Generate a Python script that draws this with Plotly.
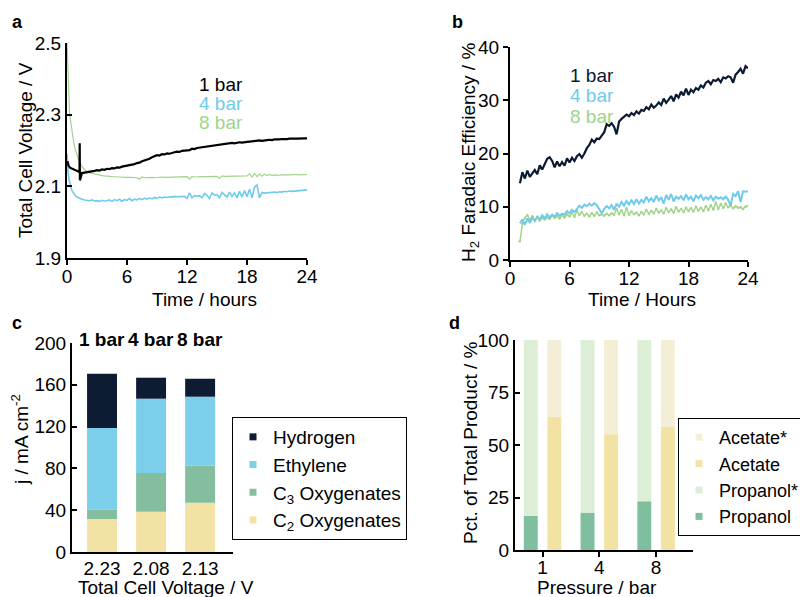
import plotly.graph_objects as go

W, H = 808, 597
# the page body has an 8 px default margin; positions below are given in
# screen pixels of the final picture and converted with this offset
OFF = 8
FONT = "Arial, Liberation Sans, sans-serif"
FS = 19

# ---------------- Panel a: total cell voltage vs time ----------------
pressures = ["1 bar", "4 bar", "8 bar"]

# regular 15-min sampling from 2 h to 24 h
t_grid_a = [h + q for h in range(2, 24) for q in (0.0, 0.25, 0.5, 0.75)] + [24.0]

v1_early_t = [0.05, 0.15, 0.3, 0.5, 0.7, 0.9, 1.1, 1.25, 1.27, 1.29, 1.31, 1.33, 1.5, 1.75]
v1_early = [2.170, 2.158, 2.152, 2.149, 2.146, 2.143, 2.141, 2.140, 2.220, 2.117, 2.215, 2.120, 2.137, 2.138]
v1_grid = [
    2.139, 2.141, 2.140, 2.143, 2.145, 2.144, 2.147, 2.146,
    2.149, 2.148, 2.151, 2.150, 2.153, 2.152, 2.155, 2.156,
    2.157, 2.158, 2.161, 2.162, 2.165, 2.166, 2.170, 2.172,
    2.175, 2.177, 2.181, 2.183, 2.187, 2.186, 2.190, 2.189,
    2.192, 2.191, 2.194, 2.195, 2.197, 2.196, 2.199, 2.200,
    2.202, 2.201, 2.205, 2.204, 2.207, 2.208, 2.210, 2.209,
    2.212, 2.213, 2.214, 2.215, 2.216, 2.215, 2.218, 2.217,
    2.219, 2.220, 2.221, 2.220, 2.222, 2.223, 2.222, 2.224,
    2.224, 2.225, 2.226, 2.225, 2.227, 2.228, 2.227, 2.229,
    2.229, 2.230, 2.229, 2.231, 2.230, 2.231, 2.232, 2.231,
    2.232, 2.233, 2.232, 2.233, 2.233, 2.234, 2.233, 2.234,
    2.234,
]

v4_early_t = [0.0, 0.05, 0.1, 0.2, 0.3, 0.4, 0.5, 0.65, 0.8, 1.0, 1.25, 1.5, 1.75]
v4_early = [2.190, 2.160, 2.140, 2.120, 2.105, 2.095, 2.088, 2.080, 2.075, 2.070, 2.066, 2.064, 2.062]
v4_grid = [
    2.061, 2.060, 2.062, 2.059, 2.060, 2.058, 2.061, 2.059,
    2.060, 2.062, 2.058, 2.063, 2.060, 2.064, 2.058, 2.063,
    2.061, 2.066, 2.060, 2.064, 2.062, 2.066, 2.063, 2.067,
    2.064, 2.068, 2.065, 2.069, 2.067, 2.070, 2.068, 2.070,
    2.069, 2.071, 2.070, 2.072, 2.071, 2.071, 2.073, 2.072,
    2.066, 2.082, 2.068, 2.074, 2.073, 2.074, 2.068, 2.080,
    2.075, 2.066, 2.082, 2.075, 2.077, 2.068, 2.083, 2.076,
    2.070, 2.084, 2.072, 2.082, 2.068, 2.086, 2.070, 2.088,
    2.071, 2.092, 2.068, 2.098, 2.104, 2.068, 2.083, 2.081,
    2.082, 2.083, 2.082, 2.084, 2.083, 2.085, 2.084, 2.086,
    2.085, 2.087, 2.086, 2.087, 2.088, 2.087, 2.089, 2.090,
    2.090,
]

v8_early_t = [0.0, 0.03, 0.06, 0.1, 0.15, 0.2, 0.25, 0.3, 0.4, 0.5, 0.63, 0.8, 0.97, 1.15, 1.3, 1.5, 1.75]
v8_early = [2.500, 2.470, 2.430, 2.390, 2.350, 2.325, 2.310, 2.295, 2.270, 2.250, 2.230, 2.205, 2.187, 2.175, 2.165, 2.155, 2.147]
v8_grid = [
    2.141, 2.138, 2.136, 2.134, 2.132, 2.131, 2.130, 2.129,
    2.128, 2.128, 2.127, 2.127, 2.126, 2.126, 2.125, 2.125,
    2.125, 2.125, 2.124, 2.125, 2.124, 2.120, 2.126, 2.124,
    2.125, 2.124, 2.125, 2.124, 2.125, 2.125, 2.126, 2.125,
    2.125, 2.126, 2.125, 2.126, 2.126, 2.125, 2.126, 2.126,
    2.127, 2.120, 2.127, 2.126, 2.127, 2.126, 2.127, 2.127,
    2.127, 2.128, 2.127, 2.128, 2.128, 2.122, 2.129, 2.128,
    2.128, 2.129, 2.128, 2.129, 2.129, 2.128, 2.129, 2.130,
    2.129, 2.135, 2.126, 2.136, 2.127, 2.135, 2.128, 2.134,
    2.130, 2.133, 2.130, 2.132, 2.131, 2.131, 2.132, 2.131,
    2.132, 2.132, 2.133, 2.132, 2.133, 2.132, 2.133, 2.133,
    2.133,
]

# ---------------- Panel b: H2 faradaic efficiency vs time ----------------
t_grid_b = [h + q for h in range(1, 24) for q in (0.0, 0.25, 0.5, 0.75)] + [24.0]

fe1 = [
    14.4, 16.5, 15.3, 16.8, 15.6, 16.2, 16.9, 16.1,
    17.8, 17.0, 17.9, 19.0, 19.3, 18.6, 17.4, 18.5,
    17.6, 18.4, 17.7, 19.1, 18.3, 19.2, 18.6, 19.5,
    19.9, 19.2, 20.0, 21.0, 21.6, 22.6, 22.1, 22.8,
    22.7, 23.4, 24.0, 25.5, 25.2, 25.7, 25.0, 23.6,
    26.0, 26.5, 26.9, 27.3, 27.0, 27.6, 27.2, 27.9,
    27.5, 28.2, 28.0, 28.7, 28.3, 29.2, 28.6, 29.0,
    29.6, 29.1, 30.3, 29.5, 30.1, 30.8, 29.8, 31.1,
    30.5, 31.6, 30.9, 32.2, 31.0, 32.0, 31.5, 32.3,
    32.0, 32.8, 32.4, 33.3, 33.6, 33.0, 33.8, 33.6,
    34.0, 33.4, 34.3, 34.1, 34.5, 34.3, 33.3, 34.8,
    35.3, 35.9, 35.0, 36.4, 36.0,
]
fe4 = [
    6.9, 7.6, 6.6, 7.8, 7.0, 8.0, 7.3, 8.1,
    7.6, 8.4, 7.8, 8.6, 8.0, 8.5, 8.1, 8.8,
    8.3, 8.7, 8.5, 9.2, 8.8, 9.4, 9.0, 9.7,
    10.2, 9.8, 10.4, 10.1, 10.6, 10.2, 10.7, 10.3,
    9.4, 8.8, 9.6, 10.1, 9.7, 10.3, 9.4, 10.6,
    10.0, 10.9, 10.2, 11.1, 10.4, 11.2, 10.5, 11.4,
    10.6, 11.3, 10.8, 11.9, 11.0, 11.6, 10.9, 12.1,
    11.2, 11.8, 10.6, 12.2, 11.3, 12.4, 11.0, 11.9,
    11.5, 12.0, 11.2, 12.3, 11.4, 11.9, 11.0, 12.1,
    11.6, 12.2, 11.3, 11.8, 11.4, 12.0, 11.2, 11.9,
    11.5, 11.8, 11.4, 11.9, 11.3, 10.2, 12.4, 12.0,
    12.9, 10.9, 12.9, 12.8, 12.9,
]
fe8 = [
    3.5, 6.8, 7.9, 8.4, 7.6, 8.2, 7.5, 8.1,
    7.4, 7.9, 7.6, 8.0, 7.7, 8.3, 7.9, 8.2,
    7.8, 8.4, 8.0, 8.6, 8.2, 8.9, 8.1, 9.2,
    8.5, 9.0, 8.3, 8.7, 8.2, 8.8, 8.3, 8.9,
    8.4, 8.6, 8.3, 8.7, 8.4, 8.8, 8.5, 9.6,
    8.6, 9.3, 8.4, 9.7, 8.5, 9.1, 8.6, 8.9,
    8.4, 9.0, 8.6, 9.4, 8.7, 9.2, 8.8, 9.6,
    8.9, 9.3, 8.8, 9.7, 9.0, 9.5, 8.9, 9.9,
    9.1, 9.6, 9.0, 9.8, 9.2, 9.7, 9.1, 10.0,
    9.3, 9.8, 9.2, 10.1, 9.4, 10.3, 9.5, 10.8,
    9.6, 10.5, 9.8, 10.6, 9.9, 10.2, 9.7, 10.1,
    9.8, 9.9, 9.6, 10.0, 10.2,
]

# ---------------- Panel c: partial current densities ----------------
voltage_labels = ["2.23", "2.08", "2.13"]
c2_oxygenates = [31.6, 38.6, 47.2]
c3_oxygenates = [8.9, 37.0, 35.4]
ethylene = [78.2, 71.1, 66.0]
hydrogen = [51.9, 20.1, 17.2]

# ---------------- Panel d: product percentages ----------------
pressure_ticks = ["1", "4", "8"]
propanol_pct = [16.3, 17.8, 23.2]
acetate_pct = [63.5, 55.1, 58.7]

# ---------------- colours ----------------
COL_1BAR_A = "#000000"
COL_1BAR_B = "#0c1a34"
COL_4BAR = "#6ecbec"
COL_8BAR = "#a0d48a"
COL_H2 = "#0d1b33"
COL_ETH = "#7bcfea"
COL_C3 = "#84be9e"
COL_C2 = "#f2e3a5"
COL_PROP = "#7fbe9e"
COL_PROPS = "#dcefd6"
COL_ACE = "#f2e3a5"
COL_ACES = "#f5eed6"


def px_x(p):
    return (p - OFF) / W


def px_y(p):
    return 1 - (p - OFF) / H


fig = go.Figure()

# panel a lines
fig.add_trace(go.Scatter(x=v8_early_t + t_grid_a, y=v8_early + v8_grid, mode="lines",
                         line=dict(color=COL_8BAR, width=1.2), xaxis="x", yaxis="y",
                         showlegend=False, name="8 bar"))
fig.add_trace(go.Scatter(x=v4_early_t + t_grid_a, y=v4_early + v4_grid, mode="lines",
                         line=dict(color=COL_4BAR, width=1.6), xaxis="x", yaxis="y",
                         showlegend=False, name="4 bar"))
fig.add_trace(go.Scatter(x=v1_early_t + t_grid_a, y=v1_early + v1_grid, mode="lines",
                         line=dict(color=COL_1BAR_A, width=2.2), xaxis="x", yaxis="y",
                         showlegend=False, name="1 bar"))

# panel b lines
fig.add_trace(go.Scatter(x=t_grid_b, y=fe8, mode="lines+markers",
                         line=dict(color=COL_8BAR, width=1.4), marker=dict(size=2.5, color=COL_8BAR),
                         xaxis="x2", yaxis="y2", showlegend=False, name="8 bar"))
fig.add_trace(go.Scatter(x=t_grid_b, y=fe4, mode="lines",
                         line=dict(color=COL_4BAR, width=2),
                         xaxis="x2", yaxis="y2", showlegend=False, name="4 bar"))
fig.add_trace(go.Scatter(x=t_grid_b, y=fe1, mode="lines",
                         line=dict(color=COL_1BAR_B, width=2.2),
                         xaxis="x2", yaxis="y2", showlegend=False, name="1 bar"))

# panel c stacked bars (stack via base)
c_series = [
    ("C<sub>2</sub> Oxygenates", c2_oxygenates, COL_C2),
    ("C<sub>3</sub> Oxygenates", c3_oxygenates, COL_C3),
    ("Ethylene", ethylene, COL_ETH),
    ("Hydrogen", hydrogen, COL_H2),
]
base = [0.0] * len(voltage_labels)
for name, vals, col in c_series:
    fig.add_trace(go.Bar(x=voltage_labels, y=vals, base=list(base), width=0.61,
                         marker=dict(color=col, line=dict(width=0)),
                         xaxis="x3", yaxis="y3", showlegend=False, name=name))
    base = [b + v for b, v in zip(base, vals)]

# panel c legend entries (top to bottom)
for name, vals, col in reversed(c_series):
    fig.add_trace(go.Scatter(x=[None], y=[None], mode="markers", name=name,
                             marker=dict(symbol="square", size=7, color=col),
                             xaxis="x3", yaxis="y3", legend="legend"))

# panel d grouped, stacked bars
propanol_rest = [100 - v for v in propanol_pct]
acetate_rest = [100 - v for v in acetate_pct]
BW = 0.245
fig.add_trace(go.Bar(x=pressure_ticks, y=propanol_pct, base=[0] * 3, width=BW, offset=-0.33,
                     marker=dict(color=COL_PROP, line=dict(width=0)),
                     xaxis="x4", yaxis="y4", showlegend=False, name="Propanol"))
fig.add_trace(go.Bar(x=pressure_ticks, y=propanol_rest, base=propanol_pct, width=BW, offset=-0.33,
                     marker=dict(color=COL_PROPS, line=dict(width=0)),
                     xaxis="x4", yaxis="y4", showlegend=False, name="Propanol*"))
fig.add_trace(go.Bar(x=pressure_ticks, y=acetate_pct, base=[0] * 3, width=BW, offset=0.085,
                     marker=dict(color=COL_ACE, line=dict(width=0)),
                     xaxis="x4", yaxis="y4", showlegend=False, name="Acetate"))
fig.add_trace(go.Bar(x=pressure_ticks, y=acetate_rest, base=acetate_pct, width=BW, offset=0.085,
                     marker=dict(color=COL_ACES, line=dict(width=0)),
                     xaxis="x4", yaxis="y4", showlegend=False, name="Acetate*"))

for name, col in [("Acetate*", COL_ACES), ("Acetate", COL_ACE),
                  ("Propanol*", COL_PROPS), ("Propanol", COL_PROP)]:
    fig.add_trace(go.Scatter(x=[None], y=[None], mode="markers", name=name,
                             marker=dict(symbol="square", size=7, color=col),
                             xaxis="x4", yaxis="y4", legend="legend2"))

axis_common = dict(showline=True, linecolor="black", linewidth=2, showgrid=False,
                   zeroline=False, tickfont=dict(family=FONT, size=FS, color="black"),
                   tickcolor="black", tickwidth=1.5, ticklen=5, automargin=False)

fig.update_layout(
    width=W, height=H,
    margin=dict(l=0, r=0, t=0, b=0, pad=0, autoexpand=False),
    paper_bgcolor="white", plot_bgcolor="white",
    font=dict(family=FONT, size=FS, color="black"),
    barmode="overlay",
    xaxis=dict(domain=[px_x(67), px_x(307)], anchor="y", range=[0, 24],
               tickvals=[0, 6, 12, 18, 24], ticks="outside", ticklabelstandoff=-5, **axis_common),
    yaxis=dict(domain=[px_y(258), px_y(43)], anchor="x", range=[1.9, 2.5],
               tickvals=[1.9, 2.1, 2.3, 2.5], tickformat=".1f", ticks="inside", **axis_common),
    xaxis2=dict(domain=[px_x(510), px_x(748)], anchor="y2", range=[0, 24],
                tickvals=[0, 6, 12, 18, 24], ticks="outside", ticklabelstandoff=-5, **axis_common),
    yaxis2=dict(domain=[px_y(260), px_y(47)], anchor="x2", range=[0, 40],
                tickvals=[0, 10, 20, 30, 40], ticks="outside", **axis_common),
    xaxis3=dict(domain=[px_x(72), px_x(233)], anchor="y3", type="category",
                range=[-0.612, 2.67], ticks="", ticklabelstandoff=-2, **axis_common),
    yaxis3=dict(domain=[px_y(552), px_y(343)], anchor="x3", range=[0, 200],
                tickvals=[0, 40, 80, 120, 160, 200], ticks="inside", **axis_common),
    xaxis4=dict(domain=[px_x(515), px_x(693)], anchor="y4", type="category",
                range=[-0.485, 2.65], ticks="outside", ticklabelstandoff=-6, **axis_common),
    yaxis4=dict(domain=[px_y(550), px_y(340)], anchor="x4", range=[0, 100],
                tickvals=[0, 25, 50, 75, 100], ticks="inside", **axis_common),
    legend=dict(x=px_x(232), y=px_y(417), xanchor="left", yanchor="top",
                bordercolor="black", borderwidth=1, bgcolor="white",
                font=dict(family=FONT, size=FS), itemwidth=30, tracegroupgap=0,
                traceorder="normal"),
    legend2=dict(x=px_x(678), y=px_y(418), xanchor="left", yanchor="top",
                 bordercolor="black", borderwidth=1, bgcolor="white",
                 font=dict(family=FONT, size=18), itemwidth=30, tracegroupgap=0,
                 traceorder="normal"),
    showlegend=True,
)

annotations = []


def add_text(text, x, y, size=FS, bold=False, angle=0, color="black", xanchor="center"):
    annotations.append(dict(
        text=f"<b>{text}</b>" if bold else text, x=px_x(x), y=px_y(y),
        xref="paper", yref="paper", showarrow=False, textangle=angle,
        xanchor=xanchor, yanchor="middle",
        font=dict(family=FONT, size=size, color=color)))


# panel letters
add_text("a", 17, 22, size=18, bold=True)
add_text("b", 457, 22, size=18, bold=True)
add_text("c", 17, 323, size=18, bold=True)
add_text("d", 454, 323, size=18, bold=True)

# axis titles
add_text("Total Cell Voltage / V", 25, 150, angle=-90)
add_text("Time / hours", 204, 299)
add_text("H<sub>2</sub> Faradaic Efficiency / %", 470, 152, angle=-90)
add_text("Time / Hours", 642, 299)
add_text("j / mA cm<sup>-2</sup>", 20, 440, angle=-90)
add_text("Total Cell Voltage / V", 166, 587)
add_text("Pct. of Total Product / %", 470, 442, angle=-90)
add_text("Pressure / bar", 597, 587)

fig.update_layout(annotations=annotations)

# series labels inside panels a and b (data coordinates)
label_cols_a = [COL_1BAR_A, COL_4BAR, COL_8BAR]
label_cols_b = [COL_1BAR_B, COL_4BAR, COL_8BAR]
for lbl, col, yv in zip(pressures, label_cols_a, [2.383, 2.330, 2.277]):
    fig.add_annotation(text=lbl, x=13, y=yv, xref="x", yref="y", showarrow=False,
                       xanchor="left", yanchor="middle", font=dict(family=FONT, size=FS, color=col))
for lbl, col, yv in zip(pressures, label_cols_b, [34.7, 30.8, 27.0]):
    fig.add_annotation(text=lbl, x=5.85, y=yv, xref="x2", yref="y2", showarrow=False,
                       xanchor="left", yanchor="middle", font=dict(family=FONT, size=FS, color=col))

# pressure headers above bars in panel c (category index positions)
for i, lbl in enumerate(pressures):
    fig.add_annotation(text=f"<b>{lbl}</b>", x=i, y=200, xref="x3", yref="y3",
                       showarrow=False, yanchor="middle", yshift=3,
                       font=dict(family=FONT, size=FS, color="black"))

fig.write_html("out.html")
